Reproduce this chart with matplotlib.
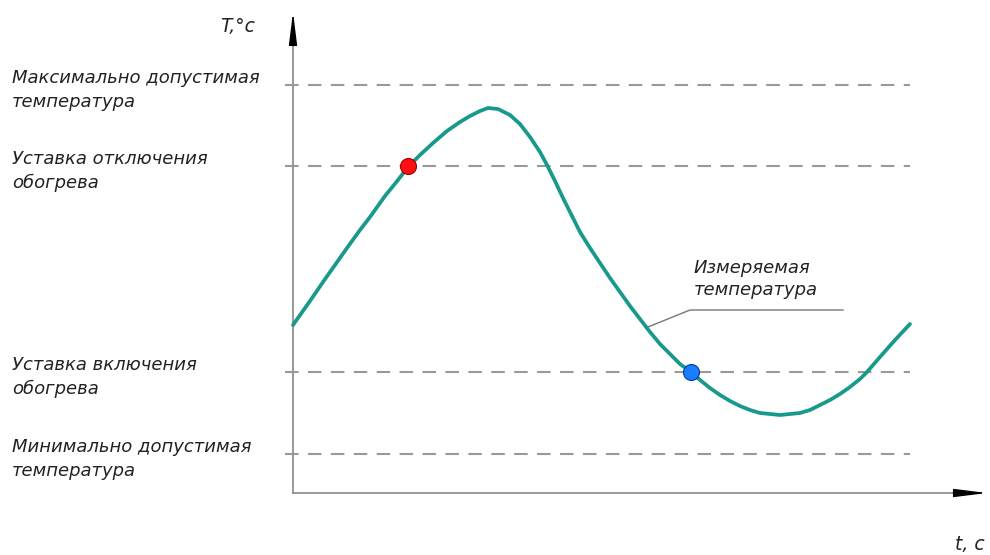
#!/usr/bin/env python3
"""
Схема регулирования обогрева: измеряемая температура и уставки
"""

import matplotlib
matplotlib.use("Agg")
import matplotlib.pyplot as plt

# уровни температуры (условные единицы)
levels = [408, 327, 121, 39]
level_labels = [
    "Максимально допустимая\nтемпература",
    "Уставка отключения\nобогрева",
    "Уставка включения\nобогрева",
    "Минимально допустимая\nтемпература",
]

# измеряемая температура
t = [0, 17, 30, 42, 54, 67, 77, 92, 105, 115, 127, 140, 154, 167, 177, 187,
     195, 205, 217, 227, 237, 247, 254, 262, 270, 279, 287, 297, 307, 317,
     327, 337, 347, 357, 367, 377, 387, 398, 407, 417, 427, 437, 447, 457,
     467, 477, 487, 497, 507, 517, 527, 537, 547, 557, 567, 574, 587, 602,
     617]
T = [168, 192, 211, 228, 245, 263, 276, 297, 313, 326, 338, 350, 362, 371,
     377, 382, 385, 384, 378, 369, 356, 341, 328, 312, 295, 277, 261, 245,
     230, 215, 201, 187, 174, 161, 149, 139, 129, 121, 113, 105, 98, 92, 87,
     83, 80, 79, 78, 79, 80, 83, 88, 93, 99, 106, 114, 121, 136, 153, 169]

# точки срабатывания
off_point = (115, 327)
on_point = (398, 121)

# выноска
leader_t = [355, 397, 550]
leader_T = [166, 183, 183]

TEXT_COLOR = "#222222"
CURVE_COLOR = "#17998c"
FONT = dict(style="italic", family="DejaVu Sans", color=TEXT_COLOR)


def main():
    fig = plt.figure(figsize=(9.9, 5.55), dpi=100)
    ax = fig.add_axes([0, 0, 1, 1])
    ax.set_xlim(-293, 697)
    ax.set_ylim(-62, 493)
    ax.axis("off")

    # оси
    ax.plot([0, 0], [0, 470], color="#888888", lw=1.2, zorder=1)
    ax.plot([0, 680], [0, 0], color="#888888", lw=1.2, zorder=1)
    head = dict(arrowstyle="-|>,head_length=2.0,head_width=0.25",
                color="black", lw=1, shrinkA=0, shrinkB=0)
    ax.annotate("", xy=(0, 481), xytext=(0, 455), arrowprops=head)
    ax.annotate("", xy=(694, 0), xytext=(667, 0), arrowprops=head)

    # уровни
    for lv, lab in zip(levels, level_labels):
        ax.plot([-8, 617], [lv, lv], color="#999999", lw=1.5,
                linestyle=(0, (6.5, 4.5)), zorder=1)
        ax.text(-281, lv - 5, lab, va="center", ha="left", fontsize=13,
                linespacing=1.4, **FONT)

    # кривая
    ax.plot(t, T, color=CURVE_COLOR, lw=2.7, solid_capstyle="round",
            solid_joinstyle="round", zorder=3)
    ax.plot(*off_point, "o", ms=11.5, mfc="#ff1010", mec="#a00000", mew=0.8, zorder=4)
    ax.plot(*on_point, "o", ms=11.5, mfc="#1a7cff", mec="#003a9a", mew=0.8, zorder=4)

    # выноска
    ax.plot(leader_t, leader_T, color="#777777", lw=1, zorder=2)
    ax.text(401, 214, "Измеряемая\nтемпература", va="center", ha="left",
            fontsize=13, linespacing=1.35, **FONT)

    # подписи осей
    ax.text(-38, 466, "T,°c", va="center", ha="right", fontsize=13.5, **FONT)
    ax.text(692, -52, "t, c", va="center", ha="right", fontsize=13.5, **FONT)

    plt.savefig("out.png", dpi=100)
    plt.close()


if __name__ == "__main__":
    main()
